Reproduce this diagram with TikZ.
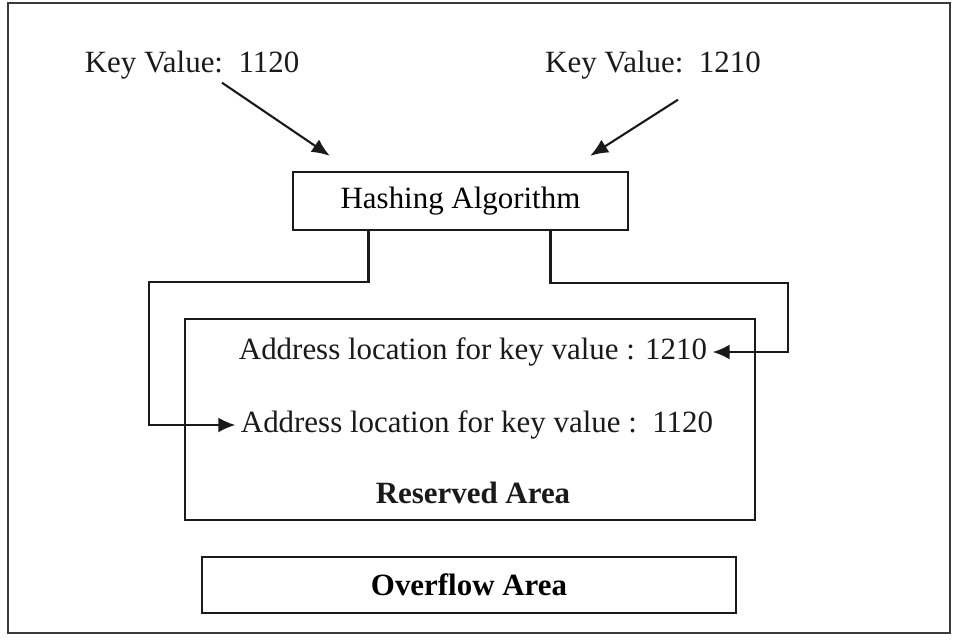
\documentclass[tikz,border=0pt]{standalone}
\usepackage{fontspec}
\setmainfont{Liberation Serif}
\usetikzlibrary{arrows.meta,positioning,calc}
\definecolor{inkblack}{HTML}{1A1A1A}
\definecolor{framegrey}{HTML}{3A3A3A}

\begin{document}
\begin{tikzpicture}[
  x=0.2mm, y=-0.2mm,
  font=\fontsize{17.6}{21}\selectfont,
  area/.style={
    draw=inkblack, line width=1.3pt, fill=white,
    align=center, inner sep=0pt},
  txt/.style={text=inkblack, inner sep=3pt},
  hd/.style={text=inkblack, inner sep=3pt, font=\fontsize{17.6}{21}\selectfont\bfseries},
  feed/.style={-{Latex[length=3.6mm, width=3mm]}, inkblack, line width=1.2pt},
  route/.style={-{Latex[length=3.4mm, width=3mm]}, inkblack, line width=1.2pt},
]
\useasboundingbox (0,0) rectangle (962,643);

% ================= outer frame =====================================
\draw[framegrey, line width=1.4pt] (8,3) rectangle (950,633);

% ================= keys and hashing ================================
\node[txt] (keyA) at (192,65) {Key Value:\ \ 1120};
\node[txt] (keyB) at (653,65) {Key Value:\ \ 1210};

\node[area, minimum width=67mm, minimum height=11.6mm] (hash) at (460.5,201)
  {Hashing Algorithm};

% ================= storage areas ===================================
\node[area, minimum width=114mm, minimum height=40.2mm] (reserved) at (470,419.5) {};
\node[txt] (addrA) at (473,352) {Address location for key value : 1210};
\node[txt] (addrB) at (477,425) {Address location for key value :\ \ 1120};
\node[hd] (reslbl) at (473,493) {Reserved Area};

\node[area, minimum width=106.8mm, minimum height=11.2mm,
      font=\fontsize{17.6}{21}\selectfont\bfseries] (overflow) at (469,585)
  {Overflow Area};

% ================= relations =======================================
\draw[feed] ($(keyA.south)+(30,-2)$) -- ($(hash.north west)+(38,-15)$);
\draw[feed] ($(keyB.south)+(25,15)$) -- ($(hash.north east)+(-39,-15)$);

% hashed keys routed into their address slots
\coordinate (lturn) at (149,282);
\coordinate (rturn) at (788,283);
\draw[route] ($(hash.south)+(-92,0)$) |- (lturn) |- (addrB.west);
\draw[route] ($(hash.south)+(90,0)$) |- (rturn) |- (addrA.east);

\end{tikzpicture}
\end{document}
